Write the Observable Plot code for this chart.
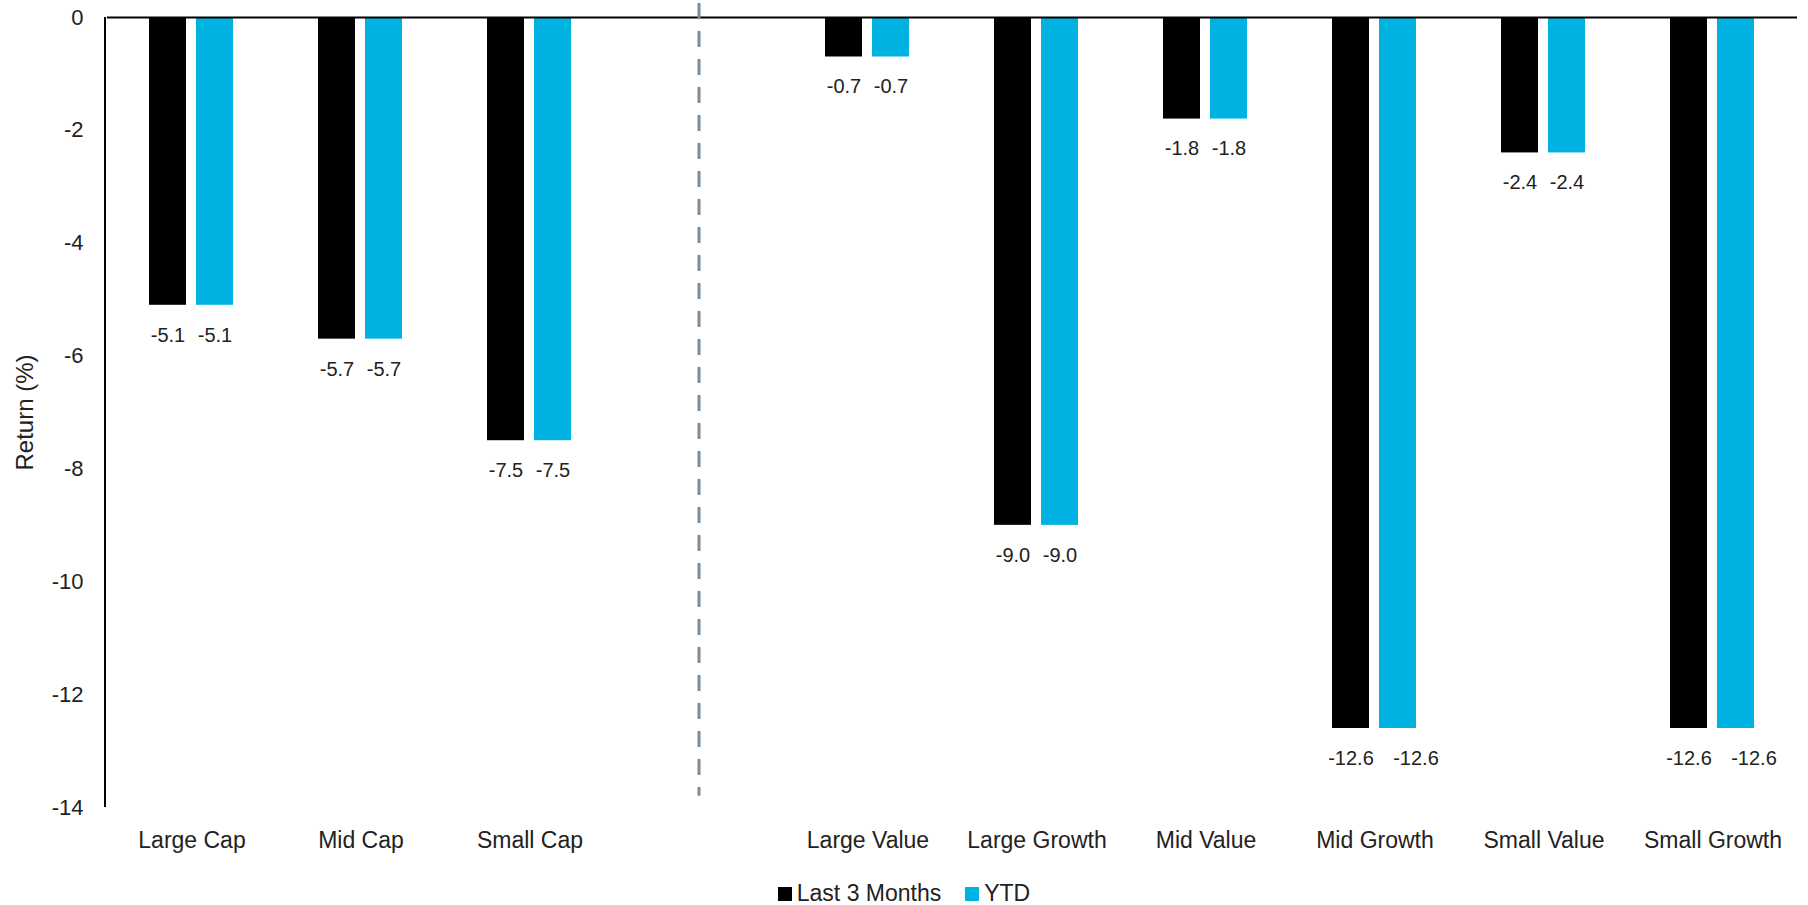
<!DOCTYPE html>
<html>
<head>
<meta charset="utf-8">
<script src="https://cdn.jsdelivr.net/npm/d3@7"></script>
<script src="https://cdn.jsdelivr.net/npm/@observablehq/plot@0.6"></script>
<style>
  html, body { margin: 0; padding: 0; background: #ffffff; }
  body { width: 1808px; font-family: "Liberation Sans", Arial, sans-serif; color: #222222; }
  #legend { display: flex; justify-content: center; align-items: center; font-size: 23px; margin-top: 12px; }
  #legend .item { display: flex; align-items: center; margin: 0 12px; }
  #legend .swatch { width: 14px; height: 14px; margin-right: 5px; }
  #chart svg g[aria-label="fx-axis tick label"] text { font-size: 23px; }
  #chart svg g[aria-label="y-axis label"] text { font-size: 24px; }
</style>
</head>
<body>
<div id="chart"></div>
<div id="legend"></div>
<script>
// Style-box categories; a blank slot separates size from style groups
const categories = ["Large Cap", "Mid Cap", "Small Cap", "Large Value", "Large Growth", "Mid Value", "Mid Growth", "Small Value", "Small Growth"];
const divider = " ";
const series = ["Last 3 Months", "YTD"];
const last3Months = [-5.1, -5.7, -7.5, -0.7, -9.0, -1.8, -12.6, -2.4, -12.6];
const ytd = [-5.1, -5.7, -7.5, -0.7, -9.0, -1.8, -12.6, -2.4, -12.6];
const yTicks = [0, -2, -4, -6, -8, -10, -12, -14];
const colors = ["#000000", "#00b2e2"];

const fxDomain = [...categories.slice(0, 3), divider, ...categories.slice(3)];

const rows = [];
categories.forEach((c, i) => {
  rows.push({category: c, series: series[0], value: last3Months[i]});
  rows.push({category: c, series: series[1], value: ytd[i]});
});

// Long YTD labels are nudged right so they don't collide with their neighbour
const isWide = d => d.series === series[1] && Math.abs(d.value) >= 10;
const labelOpts = {
  fx: "category", x: "series", y: "value",
  text: d => d.value.toFixed(1),
  dy: 30, lineAnchor: "middle", fontSize: 20, fill: "#222222"
};

const plot = Plot.plot({
  width: 1808,
  height: 868,
  marginTop: 17,
  marginBottom: 61,
  marginLeft: 105,
  marginRight: 9,
  style: {fontFamily: "'Liberation Sans', Arial, sans-serif", fontSize: "22px", color: "#222222", background: "#ffffff"},
  fx: {
    domain: fxDomain,
    padding: 0,
    axis: "bottom",
    label: null,
    tickSize: 0,
    tickPadding: 24
  },
  x: {domain: series, axis: null, paddingInner: 0.21, paddingOuter: 0.87},
  y: {
    domain: [-14, 0],
    ticks: yTicks,
    tickSize: 0,
    tickPadding: 24,
    tickFormat: d => String(d),
    label: "Return (%)",
    labelAnchor: "center",
    labelArrow: "none",
    labelOffset: 92
  },
  color: {domain: series, range: colors},
  marks: [
    Plot.barY(rows, {fx: "category", x: "series", y: "value", fill: "series"}),
    Plot.text(rows.filter(d => !isWide(d)), labelOpts),
    Plot.text(rows.filter(isWide), {...labelOpts, dx: 18}),
    Plot.ruleY([0], {stroke: "#000000", strokeWidth: 2}),
    Plot.ruleX([divider], {fx: d => d, x: null, y1: 0.25, y2: -13.8, stroke: "#7d8b99", strokeWidth: 3, strokeDasharray: "16,12"})
  ]
});

// Left axis line along the value axis
const yScale = plot.scale("y");
d3.select(plot).append("line")
  .attr("x1", 105).attr("x2", 105)
  .attr("y1", yScale.apply(0)).attr("y2", yScale.apply(-14))
  .attr("stroke", "#000000").attr("stroke-width", 2);

document.getElementById("chart").append(plot);

const legend = d3.select("#legend");
series.forEach((s, i) => {
  const item = legend.append("div").attr("class", "item");
  item.append("div").attr("class", "swatch").style("background", colors[i]);
  item.append("span").text(s);
});
</script>
</body>
</html>
